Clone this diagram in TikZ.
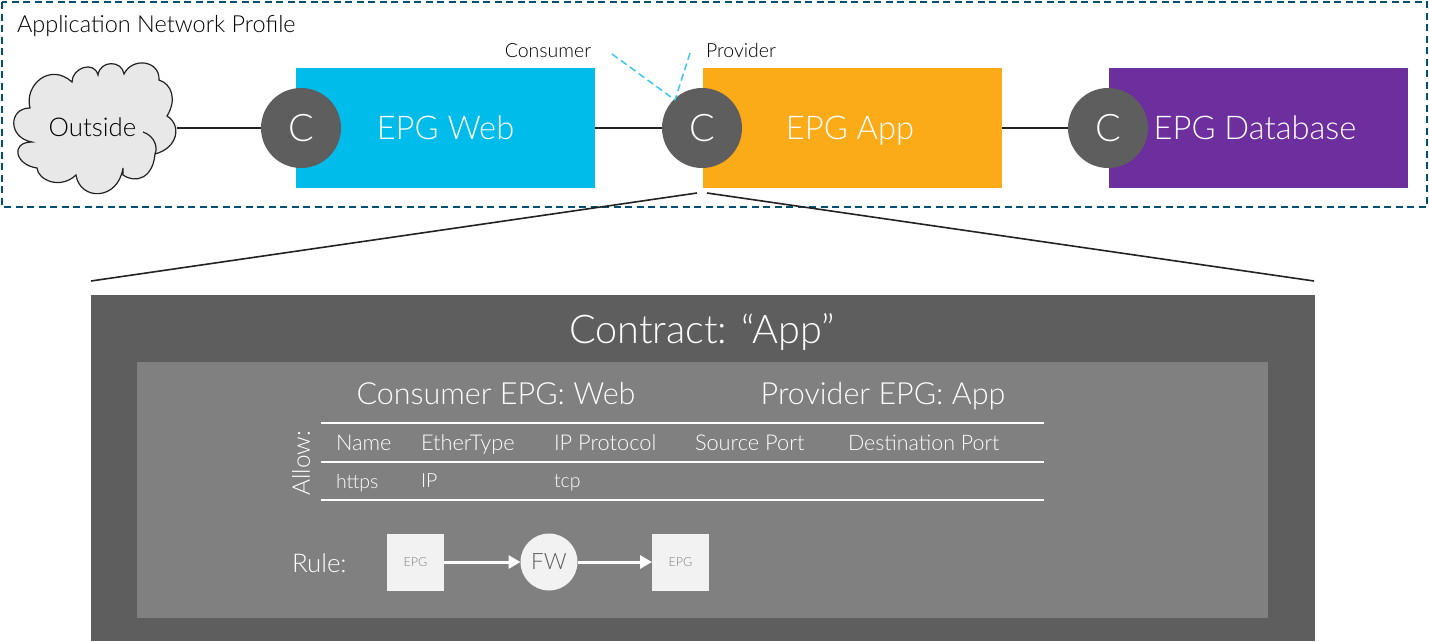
\documentclass[tikz,border=0pt]{standalone}
\usepackage{fontspec}
\setmainfont{Lato Light}
\usetikzlibrary{arrows.meta}
\definecolor{dashblue}{HTML}{005073}
\definecolor{webblue}{HTML}{00BCEB}
\definecolor{apporange}{HTML}{FBAB18}
\definecolor{dbpurple}{HTML}{6E2F9E}
\definecolor{cgrey}{HTML}{5E5E5E}
\definecolor{panelgrey}{HTML}{808080}
\definecolor{cloudgrey}{HTML}{E8E8E8}
\definecolor{ink}{HTML}{222222}
\definecolor{leadblue}{HTML}{3CC8EA}
\definecolor{paper}{HTML}{F2F2F2}
\tikzset{
  x=1pt,y=-1pt,
  every node/.style={inner sep=0pt,outer sep=0pt,text depth=0pt,execute at begin node=\vphantom{A}},
  epgbox/.style={minimum width=299pt,minimum height=120pt,text=white,font=\fontsize{32.7}{36}\selectfont},
  contractc/.style={circle,fill=cgrey,minimum size=80pt,text=white,font=\fontsize{38}{40}\selectfont},
  wire/.style={draw=ink,line width=1.6pt},
  leader/.style={draw=leadblue,line width=1.5pt,dash pattern=on 7pt off 4pt},
  lbl/.style={text=black,font=\fontsize{19.5}{22}\selectfont},
  head/.style={text=white,font=\fontsize{30.5}{34}\selectfont},
  cell/.style={text=white,anchor=west,font=\fontsize{21.8}{24}\selectfont},
  cellb/.style={text=white,anchor=west,font=\fontsize{19.5}{22}\selectfont},
  rulew/.style={draw=white,line width=2pt},
  minibox/.style={fill=paper,minimum size=57pt,text=gray,font=\fontsize{12.5}{14}\selectfont},
  flow/.style={draw=white,line width=3pt,-{Triangle[length=12pt,width=13pt]}}
}
\begin{document}
\begin{tikzpicture}
\useasboundingbox (0,0) rectangle (1429,641);
\draw[dashblue,line width=1.6pt,dash pattern=on 7pt off 4.5pt] (2.2,2) rectangle (1427,207);
\node[anchor=west,text=black,font=\fontsize{23.5}{26}\selectfont] (title) at (17,24) {Application Network Profile};

% cloud
\filldraw[fill=cloudgrey,draw=ink,line width=1.2pt]
 (30,108) .. controls (24,85) and (50,62) .. (72,82)
 .. controls (72,68) and (94,60) .. (98,75)
 .. controls (100,60) and (122,60) .. (124,74)
 .. controls (132,57) and (160,60) .. (159,80)
 .. controls (172,84) and (177,100) .. (167,116)
 .. controls (182,125) and (178,148) .. (155,154)
 .. controls (153,178) and (136,184) .. (123,175) -- (123,168)
 .. controls (118,201) and (80,201) .. (76,175)
 .. controls (60,190) and (38,180) .. (37,168)
 .. controls (15,165) and (10,142) .. (32,142)
 .. controls (8,138) and (8,108) .. (30,108) -- cycle;
\draw[ink,line width=1.2pt] (143,132) .. controls (155,136) and (158,148) .. (155,154);
\node[text=black,font=\fontsize{25.8}{28}\selectfont] (outside) at (92.5,127) {Outside};
\coordinate (cloudr) at (177,128);

% EPG boxes
\node[epgbox,fill=webblue] (web) at (445.5,128) {EPG Web};
\node[epgbox,fill=apporange] (app) at (852.5,128) {\hspace{-5pt}EPG App};
\node[epgbox,fill=dbpurple] (db) at (1258.5,128) {\hspace{-7pt}EPG Database};
\node[contractc] (c1) at (301,128) {C};
\node[contractc] (c2) at (702,128) {C};
\node[contractc] (c3) at (1108,128) {C};
\draw[wire] (cloudr) -- (c1);
\draw[wire] (web) -- (c2);
\draw[wire] (app) -- (c3);

% labels and leaders
\node[lbl] (cons) at (548,51) {Consumer};
\node[lbl] (prov) at (741,50) {Provider};
\coordinate (consend) at (612,54);
\coordinate (provend) at (690,53);
\coordinate (ctip) at (675,100);
\draw[leader] (consend) -- (ctip);
\draw[leader] (provend) -- (ctip);

% zoom lines
\coordinate (zl) at (697,193);
\coordinate (zr) at (707,193);
\coordinate (pl) at (91,281);
\coordinate (pr) at (1314,281);
\draw[wire] (zl) -- (pl);
\draw[wire] (zr) -- (pr);

% contract panel
\fill[cgrey] (91,295) rectangle (1315,641);
\fill[panelgrey] (137,362) rectangle (1268,618);
\node[text=white,font=\fontsize{39.6}{42}\selectfont] (contract) at (702,329) {Contract: “App”};
\node[head] (cepg) at (496,393) {Consumer EPG: Web};
\node[head] (pepg) at (883,393) {Provider EPG: App};
\node[text=white,rotate=90,font=\fontsize{24.4}{28}\selectfont] (allow) at (301,463) {Allow:};

\coordinate (r1l) at (321,423); \coordinate (r1r) at (1044,423);
\coordinate (r2l) at (321,462); \coordinate (r2r) at (1044,462);
\coordinate (r3l) at (321,500); \coordinate (r3r) at (1044,500);
\draw[rulew] (r1l) -- (r1r);
\draw[rulew] (r2l) -- (r2r);
\draw[rulew] (r3l) -- (r3r);

\node[cell] (h1) at (336,443) {Name};
\node[cell] (h2) at (421,443) {EtherType};
\node[cell] (h3) at (554,443) {IP Protocol};
\node[cell] (h4) at (695,443) {Source Port};
\node[cell,font=\fontsize{21.4}{24}\selectfont] (h5) at (848,443) {Destination Port};
\node[cellb] (v1) at (336,481) {https};
\node[cellb] (v2) at (421,481) {IP};
\node[cellb] (v3) at (554,481) {tcp};

\node[text=white,anchor=west,font=\fontsize{25.8}{28}\selectfont] (rule) at (292,563) {Rule:};
\node[minibox] (e1) at (415.5,562) {EPG};
\node[circle,fill=paper,minimum size=57pt,text=cgrey,font=\fontsize{22.5}{26}\selectfont] (fw) at (549,562) {FW};
\node[minibox] (e2) at (680.5,562) {EPG};
\draw[flow] (e1) -- (fw);
\draw[flow] (fw) -- (e2);
\end{tikzpicture}
\end{document}
